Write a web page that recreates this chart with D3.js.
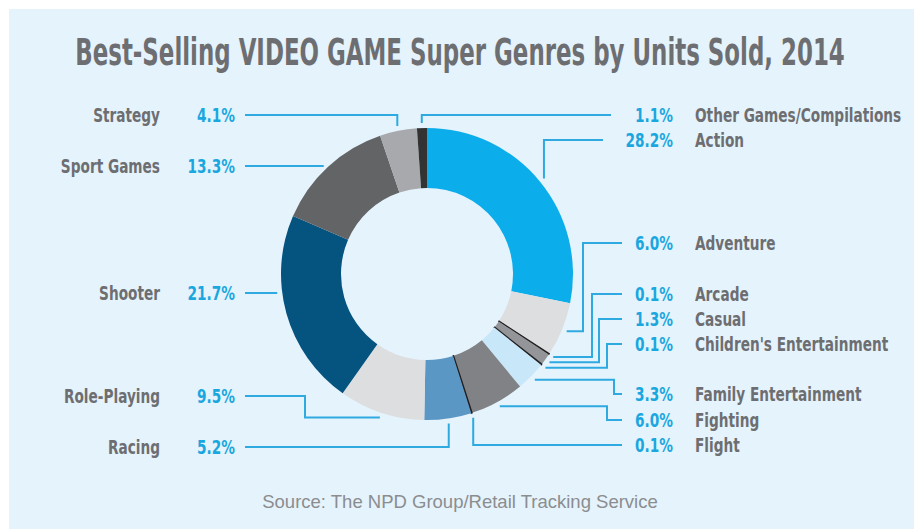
<!DOCTYPE html>
<html><head><meta charset="utf-8">
<script src="https://cdn.jsdelivr.net/npm/d3@7"></script>
<style>
html,body{margin:0;padding:0;background:#fff;}
svg{display:block;}
.cond{font-family:"Liberation Sans Narrow","DejaVu Sans Condensed","Arial Narrow",sans-serif;font-weight:bold;}
</style></head>
<body>
<svg id="chart" width="914" height="529"></svg>
<script>
// ---- data ----
const genres = ["Action","Adventure","Arcade","Casual","Children's Entertainment","Family Entertainment","Fighting","Flight","Racing","Role-Playing","Shooter","Sport Games","Strategy","Other Games/Compilations"];
const shares = [28.2, 6.0, 0.1, 1.3, 0.1, 3.3, 6.0, 0.1, 5.2, 9.5, 21.7, 13.3, 4.1, 1.1];
const titleText = "Best-Selling VIDEO GAME Super Genres by Units Sold, 2014";
const sourceText = "Source: The NPD Group/Retail Tracking Service";

// ---- styling / layout ----
const colors = ["#0cadeb","#dcdee0","#231f20","#939598","#231f20","#c8e7f8","#808285","#231f20","#5b97c5","#dcdee0","#05537f","#636466","#a7a9ac","#333333"];
const W = 914, H = 529;
const cx = 427, cy = 274, R = 146, r0 = 86;
const lineColor = "#2eaae1", pctColor = "#1aa7df", nameColor = "#6d6e71";
const labelLayout = {
  "Strategy":                 {side:"L", y:115, route:"vert"},
  "Sport Games":              {side:"L", y:166, route:"edge"},
  "Shooter":                  {side:"L", y:293, route:"edge"},
  "Role-Playing":             {side:"L", y:396, route:"elbow", vx:305},
  "Racing":                   {side:"L", y:447, route:"vert"},
  "Other Games/Compilations": {side:"R", y:115, route:"vert", end:611},
  "Action":                   {side:"R", y:140, route:"vert", end:603},
  "Adventure":                {side:"R", y:243, route:"elbow", vx:583},
  "Arcade":                   {side:"R", y:294, route:"elbow", vx:592},
  "Casual":                   {side:"R", y:319, route:"elbow", vx:599},
  "Children's Entertainment": {side:"R", y:344, route:"elbow", vx:607},
  "Family Entertainment":     {side:"R", y:394, route:"elbow", vx:614},
  "Fighting":                 {side:"R", y:420, route:"elbow", vx:607},
  "Flight":                   {side:"R", y:445, route:"vert"}
};

const svg = d3.select("#chart");
svg.append("rect").attr("x",9).attr("y",9).attr("width",W-9).attr("height",H-9).attr("fill","#e5f3fc");

// condensed text helper: horizontal squeeze around anchor point
function ctext(x, y, anchor, str, color, size, sx){
  const gg = svg.append("g").attr("transform",`translate(${x},${y}) scale(${sx},1)`);
  return gg.append("text").attr("class","cond").attr("x",0).attr("y",0)
    .attr("text-anchor",anchor).attr("font-size",size).attr("fill",color).text(str);
}

// title, fitted to the reference width
const tt = ctext(460, 65, "middle", titleText, "#6d6e71", 37, 1);
const tw = tt.node().getComputedTextLength();
d3.select(tt.node().parentNode).attr("transform",`translate(460,65) scale(${770/tw},1)`);

// source
svg.append("text").attr("x",460).attr("y",508).attr("text-anchor","middle")
  .attr("font-family","'Liberation Sans',Arial,sans-serif").attr("font-size",18.5)
  .attr("fill","#8b8d90").text(sourceText);

// pie
const data = genres.map((g,i)=>({name:g, value:shares[i], color:colors[i]}));
const pie = d3.pie().value(d=>d.value).sort(null).startAngle(0).endAngle(2*Math.PI);
const arcs = pie(data);
const arc = d3.arc().innerRadius(r0).outerRadius(R);

const lines = svg.append("g");
const g = svg.append("g").attr("transform",`translate(${cx},${cy})`);
g.selectAll("path").data(arcs).join("path")
  .attr("d",arc).attr("fill",d=>d.data.color)
  .attr("stroke",d=>d.data.value < 0.5 ? d.data.color : "none")
  .attr("stroke-width",d=>d.data.value < 0.5 ? 1.2 : 0);

function anchor(a, rr){
  const m = (a.startAngle + a.endAngle)/2;
  return [cx + rr*Math.sin(m), cy - rr*Math.cos(m)];
}

const leftStart = 245, rightEnd = 622, fs = 20, sx = 0.76;
arcs.forEach(a=>{
  const L = labelLayout[a.data.name];
  const [ax, ay] = anchor(a, R+5);
  let pts;
  if (L.side === "L") {
    if (L.route === "vert") pts = [[leftStart,L.y],[ax,L.y],[ax,ay]];
    else if (L.route === "edge") {
      const dy = L.y - cy; const ex = cx - Math.sqrt(R*R - dy*dy) - 5;
      pts = [[leftStart,L.y],[ex,L.y]];
    } else pts = [[leftStart,L.y],[L.vx,L.y],[L.vx,ay],[ax,ay]];
  } else {
    const end = L.end || rightEnd;
    if (L.route === "vert") pts = [[ax,ay],[ax,L.y],[end,L.y]];
    else pts = [[ax,ay],[L.vx,ay],[L.vx,L.y],[end,L.y]];
  }
  lines.append("path").attr("d", d3.line()(pts))
    .attr("fill","none").attr("stroke",lineColor).attr("stroke-width",2);

  const pct = a.data.value.toFixed(1) + "%";
  const by = L.y + 7.2;
  if (L.side === "L") {
    ctext(160, by, "end", a.data.name, nameColor, fs, sx);
    ctext(235, by, "end", pct, pctColor, fs, sx);
  } else {
    ctext(673, by, "end", pct, pctColor, fs, sx);
    ctext(695, by, "start", a.data.name, nameColor, fs, sx);
  }
});
</script>
</body></html>
